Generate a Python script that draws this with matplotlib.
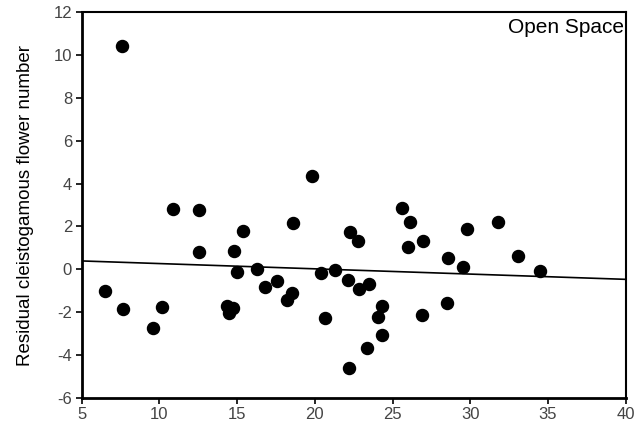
import matplotlib
matplotlib.use('Agg')
import matplotlib.pyplot as plt
import numpy as np

plt.rcParams['font.family'] = ['Liberation Sans', 'DejaVu Sans']
plt.rcParams['axes.unicode_minus'] = False

# residuals
x_vals = [6.5, 7.57, 7.68, 9.57, 10.19, 10.9, 12.57, 12.57, 14.33, 14.5,
          14.76, 14.8, 15.01, 15.4, 16.26, 16.8, 17.59, 18.23, 18.51, 18.58,
          19.8, 20.38, 20.66, 21.3, 22.12, 22.18, 22.27, 22.8, 22.87, 23.38,
          23.49, 24.09, 24.31, 24.31, 25.63, 25.98, 26.13, 26.92, 26.98, 28.49,
          28.59, 29.56, 29.82, 31.81, 33.1, 34.49]
y_vals = [-1.01, 10.45, -1.87, -2.76, -1.75, 2.8, 2.77, 0.79, -1.71, -2.06,
          -1.82, 0.87, -0.11, 1.79, 0.01, -0.84, -0.55, -1.43, -1.09, 2.15,
          4.36, -0.19, -2.29, -0.03, -0.5, -4.63, 1.76, 1.34, -0.94, -3.69,
          -0.69, -2.24, -1.71, -3.07, 2.85, 1.06, 2.23, -2.14, 1.34, -1.59,
          0.54, 0.12, 1.87, 2.23, 0.62, -0.08]

# fitted line end points
line_x = [5, 40]
line_y = [0.39, -0.47]

x_ticks = [5, 10, 15, 20, 25, 30, 35, 40]
y_ticks = [-6, -4, -2, 0, 2, 4, 6, 8, 10, 12]

fig = plt.figure(figsize=(6.35, 4.29), dpi=100)
ax = fig.add_axes([0.1287, 0.073, 0.8566, 0.8979])

ax.plot(line_x, line_y, color='black', linewidth=1.2)
ax.scatter(x_vals, y_vals, s=75, color='black', zorder=3)

ax.set_xlim(5, 40)
ax.set_ylim(-6, 12)
ax.set_xticks(x_ticks)
ax.set_yticks(y_ticks)
ax.tick_params(direction='out', length=4, width=1.2, labelsize=12,
               labelcolor='#444444', pad=3)
for side in ['left', 'bottom']:
    ax.spines[side].set_linewidth(2)
for side in ['top', 'right']:
    ax.spines[side].set_linewidth(1.5)

ax.set_ylabel('Residual cleistogamous flower number', fontsize=13.5, labelpad=14)
ax.text(0.997, 0.985, 'Open Space', transform=ax.transAxes, ha='right', va='top',
        fontsize=15)

fig.savefig('out.png', dpi=100)
